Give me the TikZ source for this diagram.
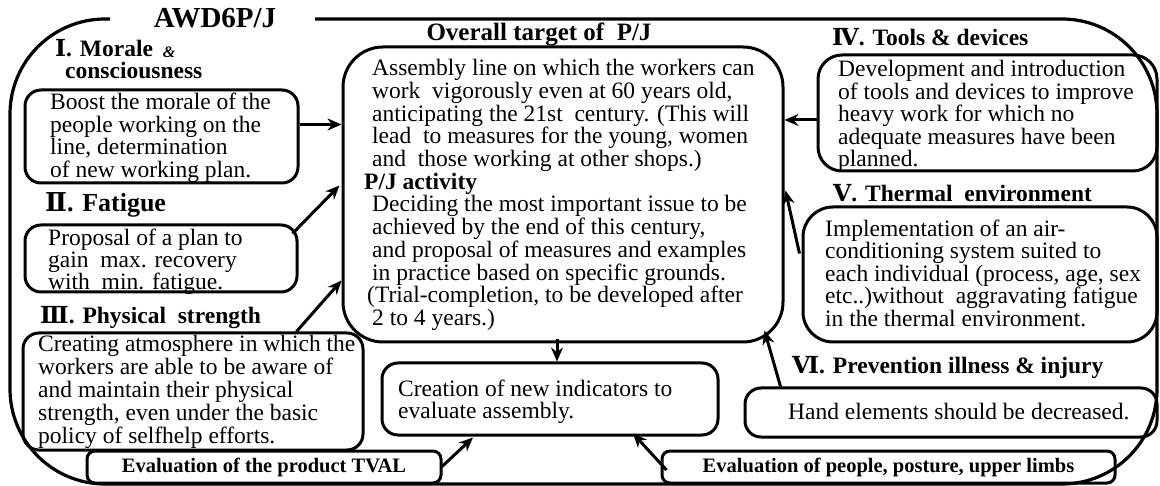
\documentclass[tikz,border=0pt]{standalone}
\usepackage{fontspec}
\setmainfont{Liberation Serif}
\newfontfamily\numfont{DejaVu Serif}
\usetikzlibrary{arrows.meta,calc}
\begin{document}
\begin{tikzpicture}[x=1pt,y=-1pt,
  box/.style={draw,line width=3pt,rounded corners=16pt,inner sep=0pt},
  txt/.style={inner sep=0pt,align=left,anchor=west,font=\fontsize{23.5}{22.5}\selectfont},
  ttl/.style={inner sep=0pt,anchor=west,font=\fontsize{23.5}{26}\selectfont\bfseries},
  evl/.style={box,rounded corners=8pt,minimum height=32pt,font=\fontsize{20.5}{24}\selectfont\bfseries},
  arr/.style={line width=3pt,-{Stealth[length=14pt,width=12pt]}},
  outer/.style={line width=3.2pt,rounded corners=95pt}]
\useasboundingbox (0,0) rectangle (1160,486);
% outer frame
\draw[outer] (315,19) -- (1157,19) -- (1157,484) -- (10,484) -- (10,19) -- (110,19);
\node[inner sep=0pt,font=\fontsize{29}{32}\selectfont\bfseries] (awd) at (215,18) {AWD6P/J};

% titles
\node[ttl] (t1) at (55,48) {{\numfont Ⅰ}. Morale};
\node[inner sep=0pt,font=\fontsize{16}{18}\selectfont\itshape\bfseries] (amp) at (169,52) {\&};
\node[ttl] (t1b) at (65,70) {consciousness};
\node[ttl,font=\fontsize{26}{28}\selectfont\bfseries] (t2) at (45,205) {{\numfont Ⅱ}. Fatigue};
\node[ttl] (t3) at (40,318) {{\numfont Ⅲ}. Physical\ \ strength};
\node[inner sep=0pt,font=\fontsize{25}{28}\selectfont\bfseries] (t0) at (539,34) {Overall target of\ \ P/J};
\node[ttl] (t4) at (832,37) {{\numfont Ⅳ}. Tools \& devices};
\node[ttl] (t5) at (833,193) {{\numfont Ⅴ}. Thermal\ \ environment};
\node[ttl] (t6) at (792,367) {{\numfont Ⅵ}. Prevention illness \& injury};

% boxes
\node[box,minimum width=273pt,minimum height=93pt] (b1) at (161.5,136.5) {};
\node[box,minimum width=272pt,minimum height=67pt] (b2) at (161,258.5) {};
\node[box,minimum width=340pt,minimum height=117pt] (b3) at (193,391.5) {};
\node[box,rounded corners=40pt,minimum width=440pt,minimum height=295pt] (main) at (563,194.5) {};
\node[box,minimum width=336pt,minimum height=72pt] (cre) at (550,399) {};
\node[box,rounded corners=24pt,minimum width=339pt,minimum height=116pt] (b4) at (987.5,113) {};
\node[box,rounded corners=30pt,minimum width=354pt,minimum height=135pt] (b5) at (980,274.5) {};
\node[box,minimum width=412pt,minimum height=49pt] (b6) at (951,412.5) {};
\node[evl,minimum width=354pt] (el) at (264,467) {Evaluation of the product TVAL};
\node[evl,minimum width=453pt] (er) at (888.5,467) {Evaluation of people, posture, upper limbs};

% texts
\node[txt] (x1) at (50,138) {Boost the morale of the\\people working on the\\line, determination\\of new working plan.};
\node[txt,font=\fontsize{23.5}{20}\selectfont] (x2) at (48,262) {Proposal of a plan to\\gain\ \ max. recovery\\with\ \ min. fatigue.};
\node[txt,font=\fontsize{23.5}{23}\selectfont] (x3) at (38,392) {Creating atmosphere in which the\\workers are able to be aware of\\and maintain their physical\\strength, even under the basic\\policy of selfhelp efforts.};
\node[txt,font=\fontsize{23.5}{22.7}\selectfont] (x0) at (372,195) {Assembly line on which the workers can\\
work\ \ vigorously even at 60 years old,\\
anticipating the 21st\ \ century. (This will\\
lead\ \ to measures for the young, women\\
and\ \ those working at other shops.)\\
\hspace*{-8pt}\textbf{P/J activity}\\
Deciding the most important issue to be\\
achieved by the end of this century,\\
and proposal of measures and examples\\
in practice based on specific grounds.\\
\hspace*{-5pt}(Trial-completion, to be developed after\\
2 to 4 years.)};
\node[txt] (x7) at (398,402) {Creation of new indicators to\\evaluate assembly.};
\node[txt,font=\fontsize{23.5}{19.8}\selectfont] (x4) at (838,116) {Development and introduction\\of tools and devices to improve\\heavy work for which no\\adequate measures have been\\planned.};
\node[txt] (x5) at (825,273) {Implementation of an air-\\conditioning system suited to\\each individual (process, age, sex\\etc..)without\ \ aggravating fatigue\\in the thermal environment.};
\node[txt] (x6) at (788,412) {Hand elements should be decreased.};

% connectors
\draw[arr] ($(b1.east)+(0,-12)$) -- ($(b1.east -| main.west)+(0,-12)$);
\draw[arr] ($(b2.north east)+(-6,10)$) -- ($(main.west)+(-2,-9)$);
\draw[arr] ($(b3.north east)+(-68,0)$) -- ($(main.west)+(0,86)$);
\draw[arr] ($(b4.west)+(0,7)$) -- ($(b4.west -| main.east)+(0,7)$);
\draw[arr] ($(b5.west)+(-2,-21)$) -- ($(main.east)+(1,-4)$);
\draw[arr] ($(b6.north west)+(37,0)$) -- ($(main.south east)+(-20,-13)$);
\draw[arr] ($(main.south)+(-6,-4)$) -- ($(cre.north)+(7,0)$);
\draw[arr] ($(el.east)+(-1,0)$) -- ($(cre.south)+(-77,1)$);
\draw[arr] ($(er.west)+(6,3)$) -- ($(cre.south)+(83,-3)$);
\end{tikzpicture}
\end{document}
